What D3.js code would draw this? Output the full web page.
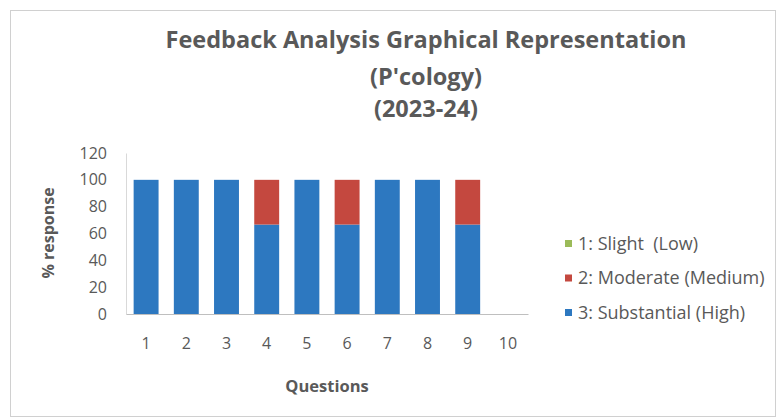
<!DOCTYPE html>
<html>
<head>
<meta charset="utf-8">
<script src="https://cdn.jsdelivr.net/npm/d3@7"></script>
<style>
  body { margin: 0; background: #fff; }
  svg { font-family: "Open Sans", sans-serif; }
</style>
</head>
<body>
<div class="chart"></div>
<script>
// feedback chart, stacked % response per question
const questions = ["1", "2", "3", "4", "5", "6", "7", "8", "9", "10"];
const slight = [0, 0, 0, 0, 0, 0, 0, 0, 0, 0];
const moderate = [0, 0, 0, 33.33, 0, 33.33, 0, 0, 33.33, 0];
const substantial = [100, 100, 100, 66.67, 100, 66.67, 100, 100, 66.67, 0];
const seriesNames = ["1: Slight  (Low)", "2: Moderate (Medium)", "3: Substantial (High)"];
const seriesColors = ["#9bbb59", "#c4483f", "#2d78c0"];
const yTicks = [0, 20, 40, 60, 80, 100, 120];
const titleLines = ["Feedback Analysis Graphical Representation", "(P'cology)", "(2023-24)"];

const width = 777, height = 420;
const textColor = "#595959";
const svg = d3.select(".chart").append("svg")
    .attr("width", width)
    .attr("height", height);

// outer frame
svg.append("rect")
    .attr("x", 10.5).attr("y", 10.5)
    .attr("width", width - 12).attr("height", height - 14)
    .attr("fill", "#fff")
    .attr("stroke", "#d0d0d0");

const plot = {left: 126, right: 528, top: 153, bottom: 314};

const x = d3.scaleBand()
    .domain(questions)
    .range([plot.left, plot.right])
    .paddingInner(0.38)
    .paddingOuter(0.19);

const y = d3.scaleLinear()
    .domain([0, 120])
    .range([plot.bottom, plot.top]);

// stack: substantial at bottom, then moderate, then slight
const rows = questions.map((q, i) => ({
    q: q, s3: substantial[i], s2: moderate[i], s1: slight[i]
}));
const stack = d3.stack().keys(["s3", "s2", "s1"]);
const layers = stack(rows);
const layerColor = {s3: seriesColors[2], s2: seriesColors[1], s1: seriesColors[0]};

svg.append("g").selectAll("g")
    .data(layers)
    .join("g")
    .attr("fill", d => layerColor[d.key])
    .selectAll("rect")
    .data(d => d)
    .join("rect")
    .attr("x", d => x(d.data.q))
    .attr("width", x.bandwidth())
    .attr("y", d => y(d[1]))
    .attr("height", d => y(d[0]) - y(d[1]));

// y axis
const yAxis = svg.append("g")
    .attr("transform", `translate(${plot.left},0)`)
    .call(d3.axisLeft(y).tickValues(yTicks).tickSize(0).tickPadding(19));
yAxis.select(".domain").attr("stroke", "#d9d9d9");
yAxis.selectAll("text")
    .attr("font-size", 16)
    .attr("fill", textColor)
    .attr("font-family", "'Open Sans', sans-serif");

// x axis
const xAxis = svg.append("g")
    .attr("transform", `translate(0,${plot.bottom})`)
    .call(d3.axisBottom(x).tickSize(0).tickPadding(24));
xAxis.select(".domain").attr("stroke", "#bfbfbf");
xAxis.selectAll("text")
    .attr("font-size", 16)
    .attr("fill", textColor)
    .attr("font-family", "'Open Sans', sans-serif");

// axis titles
svg.append("text")
    .attr("transform", `translate(54,${233}) rotate(-90)`)
    .attr("text-anchor", "middle")
    .attr("font-size", 16)
    .attr("font-weight", "bold")
    .attr("fill", textColor)
    .text("% response");

svg.append("text")
    .attr("x", (plot.left + plot.right) / 2)
    .attr("y", 392)
    .attr("text-anchor", "middle")
    .attr("font-size", 16.5)
    .attr("font-weight", "bold")
    .attr("fill", textColor)
    .text("Questions");

// title
const titleY = [48, 85, 117];
svg.append("g").selectAll("text")
    .data(titleLines)
    .join("text")
    .attr("x", 426)
    .attr("y", (d, i) => titleY[i])
    .attr("text-anchor", "middle")
    .attr("font-size", 23.5)
    .attr("font-weight", "bold")
    .attr("fill", textColor)
    .text(d => d);

// legend
const legend = svg.append("g")
    .selectAll("g")
    .data(seriesNames)
    .join("g")
    .attr("transform", (d, i) => `translate(565,${243 + i * 34.5})`);
legend.append("rect")
    .attr("x", 0).attr("y", -3)
    .attr("width", 7).attr("height", 7)
    .attr("fill", (d, i) => seriesColors[i]);
legend.append("text")
    .attr("x", 13)
    .attr("y", 6.5)
    .attr("font-size", 18)
    .attr("fill", textColor)
    .style("white-space", "pre")
    .text(d => d);
</script>
</body>
</html>
